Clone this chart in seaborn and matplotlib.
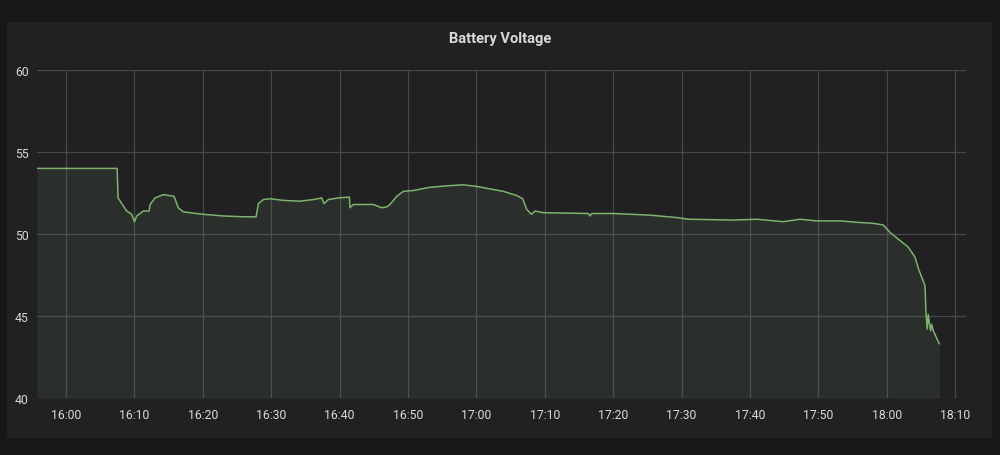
import matplotlib
matplotlib.use("Agg")
import matplotlib.pyplot as plt
import matplotlib.dates as mdates
import pandas as pd
import seaborn as sns

# ---- data ----
times = [
    "15:55:45", "16:07:28", "16:07:36", "16:08:52", "16:09:36", "16:10:00", "16:10:20",
    "16:11:18", "16:12:08", "16:12:17", "16:13:01", "16:14:14", "16:15:47", "16:16:25",
    "16:17:09", "16:20:04", "16:23:00", "16:25:55", "16:27:47", "16:28:07", "16:28:51",
    "16:29:49", "16:31:46", "16:34:13", "16:36:09", "16:37:23", "16:37:43", "16:38:21",
    "16:39:49", "16:41:25", "16:41:31", "16:42:00", "16:44:56", "16:46:09", "16:46:53",
    "16:47:22", "16:48:21", "16:49:19", "16:50:46", "16:53:13", "16:56:08", "16:58:05",
    "17:00:03", "17:02:00", "17:03:56", "17:05:53", "17:06:46", "17:07:21", "17:08:03",
    "17:08:34", "17:09:47", "17:16:22", "17:16:37", "17:16:51", "17:20:01", "17:25:23",
    "17:29:17", "17:30:59", "17:37:34", "17:40:59", "17:44:52", "17:47:18", "17:49:45",
    "17:53:09", "17:56:05", "17:58:02", "17:59:29", "18:00:28", "18:01:56", "18:03:08",
    "18:04:07", "18:04:37", "18:05:35", "18:05:44", "18:05:55", "18:06:04", "18:06:13",
    "18:06:25", "18:06:34", "18:06:48", "18:07:41",
]
voltage = [
    54.0, 54.0, 52.2, 51.4, 51.2, 50.75, 51.1,
    51.4, 51.4, 51.8, 52.2, 52.4, 52.3, 51.6,
    51.35, 51.2, 51.1, 51.05, 51.05, 51.85, 52.1,
    52.15, 52.05, 52.0, 52.1, 52.2, 51.85, 52.1,
    52.2, 52.25, 51.6, 51.8, 51.8, 51.6, 51.65,
    51.8, 52.3, 52.6, 52.65, 52.85, 52.95, 53.0,
    52.9, 52.75, 52.6, 52.35, 52.15, 51.5, 51.2,
    51.4, 51.3, 51.25, 51.1, 51.25, 51.25, 51.15,
    51.0, 50.9, 50.85, 50.9, 50.75, 50.9, 50.8,
    50.8, 50.7, 50.65, 50.55, 50.1, 49.6, 49.2,
    48.6, 47.9, 46.85, 45.2, 44.2, 45.1, 44.6,
    44.1, 44.5, 44.1, 43.3,
]
title = "Battery Voltage"
y_ticks = [40, 45, 50, 55, 60]
x_start, x_end = "15:55:45", "18:11:35"

# ---- styling ----
outer_bg = "#161719"
panel_bg = "#212124"
grid_col = "#48484b"
text_col = "#d8d9da"
line_col = "#7eb26d"

sns.set_theme(style="dark")
plt.rcParams["font.family"] = ["Roboto", "DejaVu Sans"]

day = "2020-01-01 "
df = pd.DataFrame({
    "time": pd.to_datetime([day + t for t in times]),
    "voltage": voltage,
})

fig = plt.figure(figsize=(10, 4.56), dpi=100)
fig.patch.set_facecolor(outer_bg)

# panel background as an empty axes behind the plot
bg = fig.add_axes([7 / 1000, 1 - 439 / 456, 985 / 1000, 416 / 456], zorder=-5)
bg.set_facecolor(panel_bg)
bg.set_xticks([])
bg.set_yticks([])
for s in bg.spines.values():
    s.set_visible(False)

ax = fig.add_axes([37 / 1000, 1 - 399 / 456, 929 / 1000, 328 / 456], zorder=1)
ax.set_facecolor("none")

sns.lineplot(data=df, x="time", y="voltage", ax=ax, color=line_col, linewidth=1.1, zorder=3)
ax.fill_between(df["time"], df["voltage"], 40, color=line_col, alpha=0.1, linewidth=0, zorder=2)

ax.set_xlim(pd.Timestamp(day + x_start), pd.Timestamp(day + x_end))
ax.set_ylim(40, 60)
ax.set_yticks(y_ticks)
ax.xaxis.set_major_locator(mdates.MinuteLocator(byminute=range(0, 60, 10)))
ax.xaxis.set_major_formatter(mdates.DateFormatter("%H:%M"))

ax.grid(True, color=grid_col, linewidth=0.9)
ax.set_axisbelow(True)
for s in ax.spines.values():
    s.set_visible(False)
ax.tick_params(axis="both", length=0, colors=text_col, labelsize=8.8)
ax.tick_params(axis="y", pad=6)
ax.tick_params(axis="x", pad=7)
ax.set_xlabel("")
ax.set_ylabel("")

fig.text(0.5, 1 - 39 / 456, title, ha="center", va="center", color=text_col,
         fontsize=10.5, fontweight="bold")

fig.savefig("out.png", dpi=100, facecolor=outer_bg)
